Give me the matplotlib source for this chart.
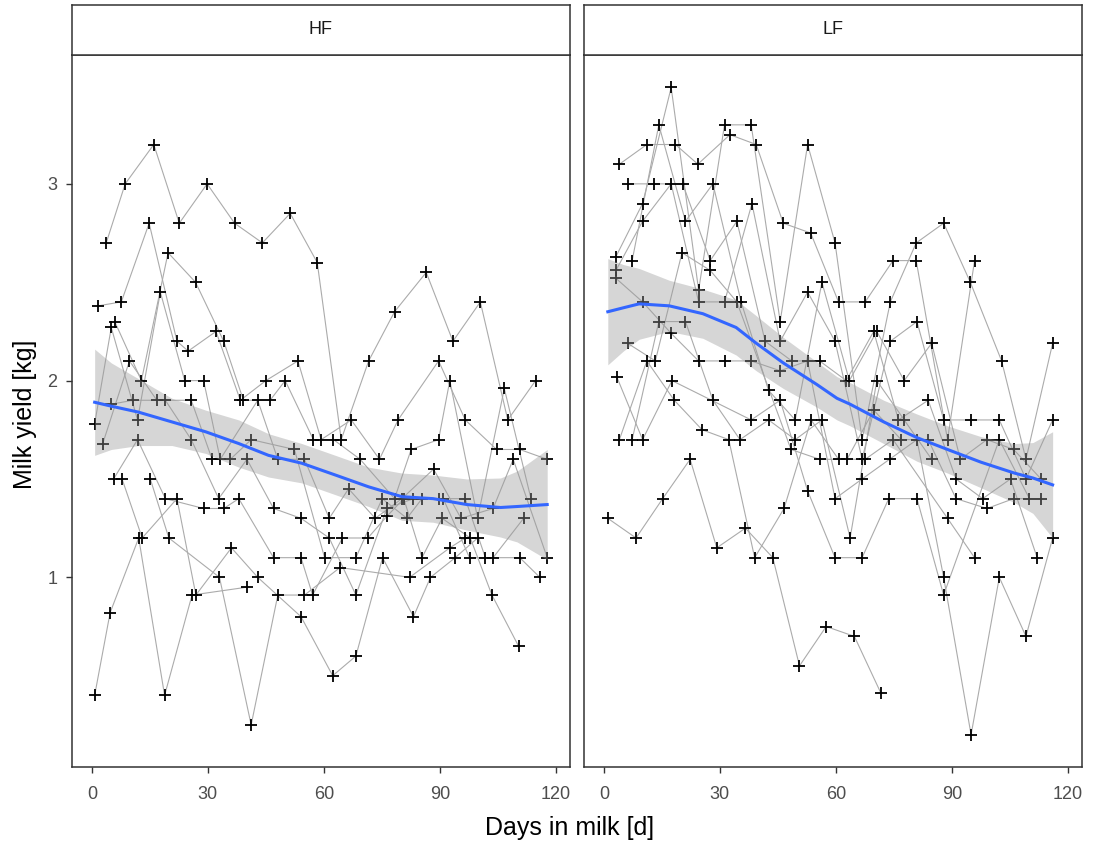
import matplotlib
matplotlib.use("Agg")
import matplotlib.pyplot as plt

plt.rcParams['font.family'] = ['Liberation Sans', 'DejaVu Sans']

# ---- HF cows: test day (days in milk) and yield per cow ----
hf_days = [
    [3.7, 8.6, 16.0, 22.6, 29.8, 36.9, 44.1, 51.3, 58.3, 64.5, 71.6, 78.3, 86.5, 93.4, 100.5, 107.6, 114.8],
    [1.6, 7.6, 14.8, 22.0, 24.9, 32.1, 38.4, 45.0, 53.3, 59.3, 67.1, 74.4, 79.2, 89.7, 96.6, 104.7, 110.7, 117.8],
    [5.9, 12.8, 19.7, 26.8, 34.1, 39.2, 46.1, 50.0, 57.3, 62.5, 69.4, 78.3, 82.6, 89.7, 92.6, 99.8, 106.7, 113.6],
    [0.7, 5.0, 11.8, 17.7, 24.0, 28.9, 33.2, 42.9, 48.1, 55.0, 61.4, 66.4, 73.3, 80.2, 88.4, 95.5, 103.8, 109.0, 117.8],
    [2.8, 9.7, 16.8, 25.7, 31.1, 35.8, 41.2, 52.4, 60.2, 68.3, 75.1, 81.5, 85.4, 90.9, 97.7, 103.8, 111.7],
    [5.0, 10.6, 19.0, 25.7, 32.8, 40.1, 47.0, 54.1, 61.4, 68.3, 76.3, 83.2, 89.7, 96.6, 101.8, 110.7, 115.9],
    [5.6, 11.8, 19.0, 28.9, 34.1, 38.0, 47.0, 54.1, 57.1, 64.8, 71.4, 76.3, 80.7, 85.4, 90.6, 97.9, 103.5, 110.4],
    [7.8, 13.0, 22.0, 26.9, 36.1, 42.9, 54.1, 62.3, 68.3, 75.2, 83.2, 87.6, 94.0, 99.8],
    [0.7, 4.7, 12.1, 18.8, 25.9, 40.1],
    [15.1, 19.9, 33.0, 41.2, 48.1, 55.0, 64.2, 82.2, 92.6, 96.6],
]
hf_kg = [
    [2.70, 3.00, 3.20, 2.80, 3.00, 2.80, 2.70, 2.85, 2.60, 1.70, 2.10, 2.35, 2.55, 2.20, 2.40, 1.80, 2.00],
    [2.38, 2.40, 2.80, 2.20, 2.15, 2.25, 1.90, 2.00, 2.10, 1.70, 1.80, 1.60, 1.80, 2.10, 1.80, 1.65, 1.65, 1.60],
    [2.30, 2.00, 2.65, 2.50, 2.20, 1.90, 1.90, 2.00, 1.70, 1.70, 1.60, 1.40, 1.65, 1.70, 2.00, 1.30, 1.96, 1.40],
    [1.78, 2.27, 1.80, 2.45, 2.00, 2.00, 1.60, 1.90, 1.60, 1.60, 1.30, 1.45, 1.30, 1.40, 1.55, 1.30, 1.35, 1.60, 1.10],
    [1.68, 2.10, 1.90, 1.90, 1.60, 1.60, 1.70, 1.65, 1.10, 1.10, 1.40, 1.30, 1.40, 1.40, 1.10, 1.10, 1.30],
    [1.88, 1.90, 1.90, 1.70, 1.40, 1.60, 1.35, 1.30, 1.20, 0.91, 1.35, 1.40, 1.40, 1.40, 1.10, 1.10, 1.00],
    [1.50, 1.70, 1.40, 1.35, 1.35, 1.40, 1.10, 1.10, 0.91, 1.20, 1.20, 1.31, 1.40, 1.10, 1.30, 1.20, 0.91, 0.65],
    [1.50, 1.20, 1.40, 0.91, 1.15, 1.00, 0.80, 0.50, 0.60, 1.10, 0.80, 1.00, 1.10, 1.20],
    [0.40, 0.82, 1.20, 0.40, 0.91, 0.95],
    [1.50, 1.20, 1.00, 0.25, 0.91, 0.91, 1.05, 1.00, 1.15, 1.20],
]

# ---- LF cows ----
lf_days = [
    [3.1, 10.0, 17.4, 24.5, 31.2, 38.1, 45.6, 52.7, 59.8, 66.8, 74.1, 80.8, 87.9, 94.8, 102.9, 109.2, 116.1],
    [3.1, 10.0, 17.4, 24.5, 31.2, 38.3, 45.6, 52.7, 59.8, 66.8, 74.1, 81.0, 87.9, 95.0, 102.3, 109.2, 116.1],
    [3.1, 10.0, 17.4, 24.5, 31.4, 38.1, 45.6, 52.7, 59.8, 66.8, 73.9, 81.0, 87.9, 95.0, 102.3, 109.2, 116.1],
    [3.3, 10.0, 17.6, 38.1, 45.6, 52.7, 59.8, 66.8, 73.7, 81.0, 87.9, 102.3, 110.1],
    [4.0, 11.1, 18.5, 24.3, 32.6, 39.4, 46.4, 53.5, 60.7, 67.6, 74.8, 80.8, 88.9, 95.9],
    [4.0, 11.1, 18.2, 25.4, 32.3, 39.0, 46.6, 53.6, 60.7, 67.6, 74.8, 88.9, 95.9],
    [6.1, 13.0, 20.4, 27.5, 34.4, 41.7, 48.6, 55.8, 62.7, 69.8, 76.2, 83.9, 91.1, 98.0, 105.2, 112.1],
    [6.1, 13.3, 20.2, 27.5, 34.4, 48.4, 55.8, 62.9, 69.8, 76.9, 83.9, 91.1, 99.1, 106.0, 113.1],
    [1.0, 8.3, 15.2, 22.3, 29.2, 36.6, 43.7, 50.6, 57.5, 64.8, 71.7],
    [7.3, 14.2, 21.1, 28.2, 35.5, 42.6, 49.5, 56.4, 63.5, 70.6, 77.7, 84.8, 92.2, 99.1, 106.0, 113.1],
    [7.3, 14.2, 21.1, 28.2, 35.2, 42.6, 49.5, 56.4, 63.7, 70.6, 77.7, 84.8],
]
lf_kg = [
    [2.63, 2.90, 3.49, 2.46, 3.30, 3.30, 2.30, 3.20, 2.70, 1.70, 2.40, 2.70, 2.80, 2.50, 2.10, 1.60, 2.19],
    [2.56, 2.81, 3.00, 2.40, 2.40, 2.90, 2.20, 2.45, 2.20, 1.60, 2.20, 2.30, 1.80, 1.80, 1.80, 1.50, 1.80],
    [2.52, 2.40, 2.24, 2.10, 2.10, 2.10, 2.05, 2.10, 1.40, 1.50, 1.60, 1.70, 1.00, 0.20, 1.00, 0.70, 1.20],
    [2.02, 1.70, 2.00, 1.80, 1.90, 1.44, 1.10, 1.10, 1.40, 1.40, 0.91, 1.70, 1.40],
    [3.10, 3.20, 3.20, 3.10, 3.25, 3.20, 2.80, 2.75, 2.40, 2.40, 2.61, 2.61, 1.70, 2.61],
    [1.70, 2.10, 1.90, 1.75, 1.70, 1.10, 1.35, 1.80, 1.60, 1.60, 1.70, 1.30, 1.10],
    [3.00, 3.00, 3.00, 2.61, 2.81, 2.20, 2.10, 2.10, 2.00, 2.25, 1.80, 1.90, 1.50, 1.40, 1.50, 1.10],
    [2.19, 2.10, 2.65, 2.56, 2.40, 1.65, 1.60, 1.60, 1.85, 1.70, 1.70, 1.40, 1.35, 1.40, 1.40],
    [1.30, 1.20, 1.40, 1.60, 1.15, 1.25, 1.10, 0.55, 0.75, 0.70, 0.41],
    [2.61, 3.30, 2.81, 3.00, 2.40, 1.95, 1.80, 2.50, 2.00, 2.25, 2.00, 2.19, 1.60, 1.70, 1.65, 1.50],
    [1.70, 2.30, 2.30, 1.90, 1.70, 1.80, 1.70, 1.80, 1.20, 2.00, 1.80, 1.60],
]

# ---- loess smooth with confidence band ----
hf_fit_day = [0.7, 5, 12, 20.7, 29.4, 38, 45.7, 54.3, 63, 71.6, 80.2, 88.3, 97, 105.7, 110, 117.8]
hf_fit = [1.89, 1.87, 1.84, 1.79, 1.74, 1.68, 1.62, 1.58, 1.52, 1.46, 1.41, 1.40, 1.37, 1.355, 1.36, 1.37]
hf_hi = [2.16, 2.09, 2.01, 1.91, 1.85, 1.80, 1.73, 1.68, 1.62, 1.56, 1.53, 1.52, 1.50, 1.505, 1.54, 1.65]
hf_lo = [1.62, 1.65, 1.67, 1.67, 1.63, 1.56, 1.51, 1.48, 1.42, 1.36, 1.29, 1.28, 1.24, 1.205, 1.18, 1.09]

lf_fit_day = [1.0, 5, 9.1, 16.9, 25.6, 34.2, 39.4, 46.4, 55.1, 60.3, 63.7, 72.4, 81, 88.9, 97.6, 106.2, 111, 116.1]
lf_fit = [2.35, 2.37, 2.39, 2.38, 2.34, 2.27, 2.19, 2.09, 1.98, 1.91, 1.88, 1.79, 1.71, 1.65, 1.585, 1.53, 1.505, 1.47]
lf_hi = [2.62, 2.59, 2.57, 2.51, 2.465, 2.41, 2.33, 2.22, 2.095, 2.02, 1.99, 1.90, 1.83, 1.77, 1.715, 1.68, 1.685, 1.74]
lf_lo = [2.08, 2.15, 2.21, 2.25, 2.215, 2.13, 2.05, 1.96, 1.865, 1.80, 1.77, 1.68, 1.59, 1.53, 1.455, 1.38, 1.325, 1.20]

x_ticks = [0, 30, 60, 90, 120]
y_ticks = [1, 2, 3]

W, H = 1093, 843
fig = plt.figure(figsize=(W / 100, H / 100), dpi=100)


def box(l, t, r, b):
    # pixel box -> figure fraction
    return [l / W, 1 - b / H, (r - l) / W, (b - t) / H]


panels = [
    ("HF", 72, hf_days, hf_kg, hf_fit_day, hf_fit, hf_lo, hf_hi),
    ("LF", 584, lf_days, lf_kg, lf_fit_day, lf_fit, lf_lo, lf_hi),
]

for i, (name, left, days, kg, fd, fit, lo, hi) in enumerate(panels):
    ax = fig.add_axes(box(left, 55, left + 498, 767))
    for d, k in zip(days, kg):
        ax.plot(d, k, color="#ABABAB", lw=0.8, zorder=1)
        ax.plot(d, k, ls="none", marker="+", ms=9, mew=1.3, color="black", zorder=2)
    ax.fill_between(fd, lo, hi, color="#999999", alpha=0.4, lw=0, zorder=3)
    ax.plot(fd, fit, color="#3366FF", lw=2.2, zorder=4)

    ax.set_xlim(-5.16, 123.7)
    ax.set_ylim(0.036, 3.655)
    ax.set_xticks(x_ticks)
    if i == 0:
        ax.set_yticks(y_ticks)
    else:
        ax.set_yticks([])
    ax.tick_params(labelsize=13, color="#333333", labelcolor="#4D4D4D",
                   length=4.5, width=1)
    ax.tick_params(axis="x", pad=9)
    ax.tick_params(axis="y", pad=6)
    for s in ax.spines.values():
        s.set_color("#333333")
        s.set_linewidth(1.1)

    # facet strip
    sax = fig.add_axes(box(left, 5, left + 498, 55))
    sax.set_xticks([])
    sax.set_yticks([])
    for s in sax.spines.values():
        s.set_color("#333333")
        s.set_linewidth(1.1)
    sax.text(0.5, 0.5, name, ha="center", va="center", fontsize=13,
             color="#1A1A1A", transform=sax.transAxes)

fig.text(570 / W, 1 - 828 / H, "Days in milk [d]", ha="center", va="center",
         fontsize=18)
fig.text(25 / W, 1 - 414 / H, "Milk yield [kg]", ha="center", va="center",
         rotation=90, fontsize=18)

fig.savefig("out.png", dpi=100)
